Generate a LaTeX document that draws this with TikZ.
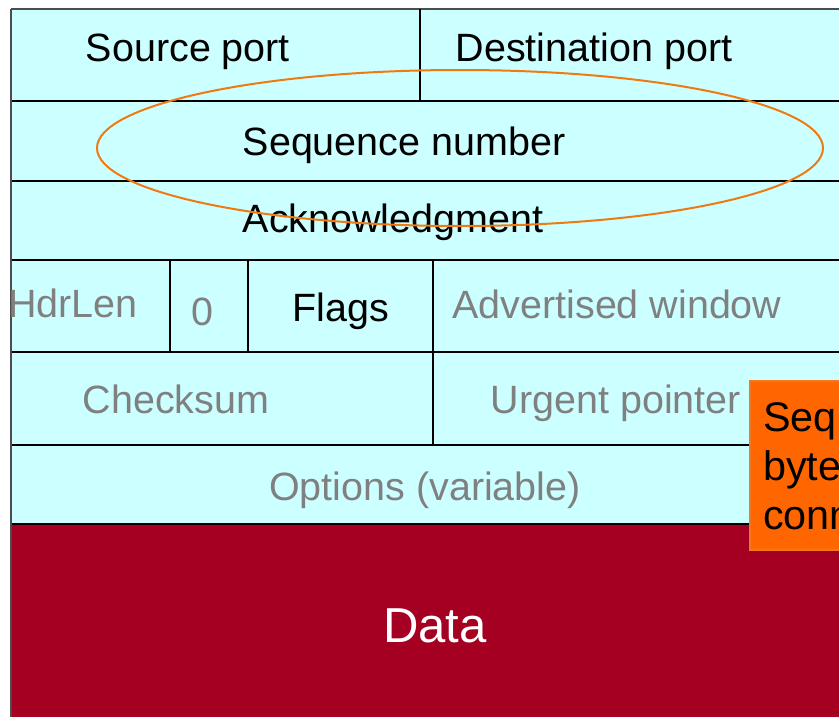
\documentclass[tikz,border=0pt]{standalone}
\usepackage{fontspec}
\setmainfont{Liberation Sans}
\usetikzlibrary{positioning}

\definecolor{hdrcyan}{HTML}{CCFFFF}
\definecolor{datared}{HTML}{A50021}
\definecolor{noteorange}{HTML}{FF6600}
\definecolor{noteedge}{HTML}{F07820}
\definecolor{ringorange}{HTML}{F07A12}
\definecolor{fadegrey}{HTML}{808080}

\begin{document}
\begin{tikzpicture}[x=0.75pt, y=-0.75pt,
  field/.style={
    font=\fontsize{29.6}{35}\selectfont,
    inner sep=0pt,
    anchor=base
  },
  faded/.style={field, text=fadegrey},
  rule/.style={draw=black, line width=0.8pt},
  frame/.style={draw=black!70, line width=1.2pt},
  ring/.style={draw=ringorange, line width=1.5pt},
  notetext/.style={field, anchor=base west, font=\fontsize{31}{37}\selectfont}
  ]

\useasboundingbox (0,0) rectangle (839,717);
\clip (0,0) rectangle (839,717);

% Header and data areas
\fill[hdrcyan] (11,9) rectangle (860,524);
\fill[datared] (11,524) rectangle (860,730);

% Row lines
\foreach \y in {101,181,260,352,445} {
  \draw[rule] (11,\y) -- (860,\y);
}
\draw[rule, line width=1.2pt] (11,524) -- (860,524);
\draw[frame] (11,9) -- (860,9);
\draw[frame] (11,9) -- (11,730);

% Column lines
\draw[rule] (420,9) -- (420,101);
\draw[rule] (170,260) -- (170,352);
\draw[rule] (248,260) -- (248,352);
\draw[rule] (433,260) -- (433,445);

% Field labels
\node[field] (srcport) at (188,62) {Source port};
\node[field] (dstport) at (594,62) {Destination port};
\node[field] (seqnum) at (404,155) {Sequence number};
\node[field] (acknum) at (393,232) {Acknowledgment};
\node[faded] (hdrlen) at (73,317) {HdrLen};
\node[faded] (zero) at (202,325) {0};
\node[field] (flags) at (341,321) {Flags};
\node[faded] (advwin) at (617,318) {Advertised window};
\node[faded] (cksum) at (176,413) {Checksum};
\node[faded] (urgptr) at (616,413) {Urgent pointer};
\node[faded] (options) at (425,500) {Options (variable)};
\node[field, text=white, font=\fontsize{36.8}{44}\selectfont] (data) at (435,642) {Data};

% Highlight ring
\draw[ring] (460,148) ellipse [x radius=363, y radius=78];

% Side note
\filldraw[fill=noteorange, draw=noteedge, line width=0.8pt] (750,381) rectangle (870,550);
\node[notetext] (note1) at (763,431) {Seq};
\node[notetext] (note2) at (763,480) {byte};
\node[notetext] (note3) at (763,529) {conn};

\end{tikzpicture}
\end{document}
